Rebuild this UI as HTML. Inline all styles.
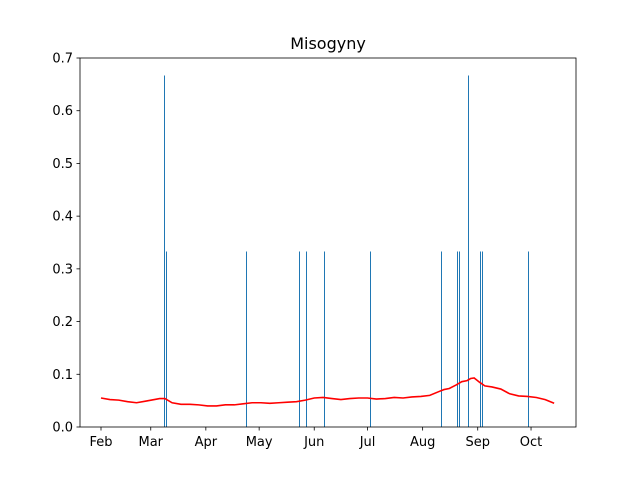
<!DOCTYPE html>
<html><head><meta charset="utf-8"><style>
body{margin:0;background:#fff;font-family:"Liberation Sans","DejaVu Sans",sans-serif}
svg text{font-family:"DejaVu Sans","Liberation Sans",sans-serif;font-size:13px;fill:#000}
</style></head><body>
<svg id="chart" width="640" height="480" xmlns="http://www.w3.org/2000/svg">
<rect width="640" height="480" fill="#fff"/>
<text x="328" y="49" text-anchor="middle" style="font-size:16px">Misogyny</text>
<g id="bars"></g><g id="line"></g><g id="axes"></g>
</svg>
<script>
// days since Feb 1
const barDays=[35.5,36.6,81.6,111.4,115.4,125.5,151.4,191.3,200.3,201.5,206.5,213.3,214.4,240.3];
const barValues=[0.667,0.333,0.333,0.333,0.333,0.333,0.333,0.333,0.333,0.333,0.667,0.333,0.333,0.333];
const lineDays=[0,5,10,15,20,25,30,33,36,40,45,50,55,60,65,70,75,80,85,90,95,100,105,110,115,120,125,130,135,140,145,150,155,160,165,170,175,180,185,190,193,196,200,203,206,208,210,213,216,220,225,230,235,240,245,250,255];
const lineValues=[0.055,0.052,0.051,0.048,0.046,0.049,0.052,0.054,0.054,0.046,0.043,0.043,0.042,0.040,0.040,0.042,0.042,0.044,0.046,0.046,0.045,0.046,0.047,0.048,0.051,0.055,0.056,0.054,0.052,0.054,0.055,0.055,0.053,0.054,0.056,0.055,0.057,0.058,0.060,0.067,0.071,0.073,0.080,0.086,0.088,0.092,0.093,0.085,0.078,0.076,0.072,0.063,0.059,0.058,0.056,0.052,0.045];
const yTicks=[0,0.1,0.2,0.3,0.4,0.5,0.6,0.7];
const xTickLabels=["Feb","Mar","Apr","May","Jun","Jul","Aug","Sep","Oct"];
const xTickDays=[0,28,59,89,120,150,181,212,242];
const L=80,R=576,T=58,B=427;
const xs=d=>101+d*1.777;
const ys=v=>B-(v/0.7)*(B-T);
const NS="http://www.w3.org/2000/svg";
function mk(t,a,p){const e=document.createElementNS(NS,t);for(const k in a)e.setAttribute(k,a[k]);p.appendChild(e);return e;}
const bg=document.getElementById('bars');
barDays.forEach((d,i)=>{const r=mk('rect',{x:Math.round(xs(d)),y:ys(barValues[i]),width:1,height:B-ys(barValues[i]),fill:'#1f77b4','shape-rendering':'crispEdges'},bg);

});
const lg=document.getElementById('line');
const pl=mk('polyline',{points:lineDays.map((d,i)=>xs(d)+','+ys(lineValues[i])).join(' '),fill:'none',stroke:'#ff0000','stroke-width':1.6},lg);


const ax=document.getElementById('axes');
const fr=mk('rect',{x:L,y:T,width:R-L,height:B-T,fill:'none',stroke:'#000','stroke-width':0.8},ax);


yTicks.forEach(v=>{const y=ys(v);mk('line',{x1:L-3.5,x2:L,y1:y,y2:y,stroke:'#000','stroke-width':0.8},ax);
const t=mk('text',{x:L-7,y:y+4.5,'text-anchor':'end'},ax);t.textContent=v.toFixed(1);

});
xTickDays.forEach((d,i)=>{const x=xs(d);mk('line',{x1:x,x2:x,y1:B,y2:B+3.5,stroke:'#000','stroke-width':0.8},ax);
const t=mk('text',{x:x,y:B+19,'text-anchor':'middle'},ax);t.textContent=xTickLabels[i];

});
</script>
</body></html>
